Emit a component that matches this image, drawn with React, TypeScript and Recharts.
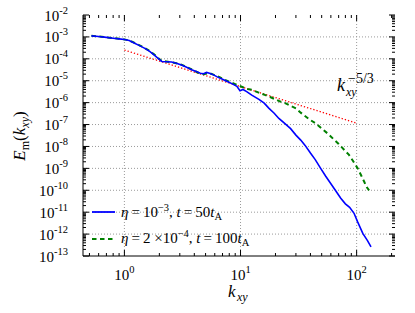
import React from 'react';
import { LineChart, Line, XAxis, YAxis, ReferenceLine, Legend } from 'recharts';

const FONT = "'Liberation Serif', 'DejaVu Serif', serif";

// eta = 1e-3, t = 50 tA (blue, solid)
const K_ETA3 = [
  0.52, 0.6, 0.7, 0.8, 0.9, 1.0, 1.1, 1.2, 1.35, 1.5, 1.65, 1.8, 1.95, 2.1, 2.3, 2.55, 2.8, 3.1, 3.4, 3.8,
  4.2, 4.5, 4.8, 5.1, 5.4, 5.8, 6.3, 7.0, 7.7, 8.5, 9.3, 9.9, 10.5, 11.3, 12.5, 14.4, 16, 17.6, 19.5, 21.4,
  24, 27, 30, 33, 36, 40, 44, 49, 54, 60, 66, 73, 80, 87, 95, 102, 113, 124, 133,
];
const E_ETA3 = [
  1.12e-3, 1.05e-3, 9.5e-4, 8.7e-4, 8.1e-4, 7.6e-4, 6.8e-4, 5.4e-4, 4.0e-4, 3.0e-4, 2.2e-4, 1.5e-4, 1.05e-4,
  7.6e-5, 7.4e-5, 7.2e-5, 6.3e-5, 5.2e-5, 4.2e-5, 3.2e-5, 2.6e-5, 2.2e-5, 2.1e-5, 2.4e-5, 2.2e-5, 1.9e-5,
  1.5e-5, 1.17e-5, 9.3e-6, 7.2e-6, 5.6e-6, 3.5e-6, 4.0e-6, 3.2e-6, 2.2e-6, 1.4e-6, 9.5e-7, 5.5e-7, 3.3e-7,
  1.9e-7, 1.12e-7, 6.5e-8, 3.3e-8, 1.95e-8, 1.12e-8, 5.0e-9, 2.5e-9, 1.0e-9, 4.5e-10, 2.0e-10, 9.5e-11,
  4.3e-11, 2.4e-11, 1.66e-11, 8.9e-12, 3.6e-12, 1.07e-12, 5.0e-13, 2.6e-13,
];

// eta = 2e-4, t = 100 tA (green, dashed)
const K_ETA24 = [
  0.52, 0.6, 0.7, 0.8, 0.9, 1.0, 1.1, 1.2, 1.35, 1.5, 1.65, 1.8, 1.95, 2.1, 2.3, 2.55, 2.8, 3.1, 3.4, 3.8,
  4.2, 4.5, 4.8, 5.4, 6.0, 6.6, 7.3, 8.0, 9.0, 10, 11.5, 12.6, 14, 16.4, 18, 20, 22, 24.5, 27, 30, 33, 35,
  40, 44.5, 50, 56, 63, 70, 78, 86, 94, 102, 110, 116, 122, 128,
];
const E_ETA24 = [
  1.12e-3, 1.05e-3, 9.6e-4, 8.8e-4, 8.2e-4, 7.7e-4, 6.9e-4, 5.6e-4, 4.1e-4, 3.1e-4, 2.3e-4, 1.6e-4, 1.1e-4,
  8.0e-5, 7.5e-5, 7.0e-5, 6.3e-5, 5.4e-5, 4.4e-5, 3.3e-5, 2.5e-5, 2.1e-5, 2.0e-5, 2.2e-5, 1.8e-5, 1.45e-5,
  1.1e-5, 9.0e-6, 7.0e-6, 5.6e-6, 4.2e-6, 3.8e-6, 3.0e-6, 2.2e-6, 1.8e-6, 1.4e-6, 1.12e-6, 9.3e-7, 7.1e-7,
  5.5e-7, 3.5e-7, 2.7e-7, 1.6e-7, 1.12e-7, 6.6e-8, 4.0e-8, 2.2e-8, 1.3e-8, 7.1e-9, 4.1e-9, 2.0e-9, 1.0e-9,
  4.5e-10, 2.5e-10, 1.4e-10, 1.0e-10,
];

// k^-5/3 reference slope (red, dotted)
const K_SLOPE = [1, 10, 100];
const E_SLOPE = [2.5e-4, 5.4e-6, 1.16e-7];

// axes
const X_DOMAIN = [0.44, 214];
const Y_DOMAIN = [1e-13, 1e-2];
const X_DECADES = [-1, 0, 1, 2];
const Y_DECADES = [-13, -12, -11, -10, -9, -8, -7, -6, -5, -4, -3, -2];
const MINOR = [1, 2, 3, 4, 5, 6, 7, 8, 9];
const LEGEND_ORDER = ['eta3', 'eta24'];

// layout: the plot box follows from these
const W = 415;
const H = 313;
const MARGIN = { top: 15, right: 20, bottom: 0, left: 0 };
const Y_AXIS_W = 83;
const X_AXIS_H = 57;
const PLOT_LEFT = MARGIN.left + Y_AXIS_W;
const PLOT_RIGHT = W - MARGIN.right;
const PLOT_TOP = MARGIN.top;
const PLOT_BOTTOM = H - MARGIN.bottom - X_AXIS_H;

const toRows = (ks: number[], es: number[]) => ks.map((k, i) => ({ k, e: es[i] }));
const eta3 = toRows(K_ETA3, E_ETA3);
const eta24 = toRows(K_ETA24, E_ETA24);
const slope = toRows(K_SLOPE, E_SLOPE);

const logTicks = (decades: number[], [lo, hi]: number[]) =>
  decades.flatMap((d) => MINOR.map((m) => m * Math.pow(10, d))).filter((v) => v >= lo * 0.999 && v <= hi * 1.001);
const X_TICKS = logTicks(X_DECADES, X_DOMAIN);
const Y_TICKS = logTicks(Y_DECADES, Y_DOMAIN);

const isDecade = (v: number) => Math.abs(Math.log10(v) - Math.round(Math.log10(v))) < 1e-6;
const expOf = (v: number) => Math.round(Math.log10(v));
const MAJOR_LEN = 6;
const MINOR_LEN = 3;
const GRID = { stroke: '#9a9a9a', strokeDasharray: '1 2', strokeWidth: 1 };
const TICK_LINE = { stroke: '#000', strokeWidth: 1, fill: 'none' };

// ticks point inward on all four sides, like the original figure
function BottomTick({ x, payload }: any) {
  const major = isDecade(payload.value);
  const len = major ? MAJOR_LEN : MINOR_LEN;
  return (
    <g>
      <path d={`M${x},${PLOT_BOTTOM}v${-len}M${x},${PLOT_TOP}v${len}`} {...TICK_LINE} />
      {major && (
        <text x={x} y={PLOT_BOTTOM + 24} textAnchor="middle" fontFamily={FONT} fontSize={15} fill="#000" stroke="none">
          10<tspan dy={-7} fontSize={10.5}>{expOf(payload.value)}</tspan>
        </text>
      )}
    </g>
  );
}

function LeftTick({ y, payload }: any) {
  const major = isDecade(payload.value);
  const len = major ? MAJOR_LEN : MINOR_LEN;
  return (
    <g>
      <path d={`M${PLOT_LEFT},${y}h${len}M${PLOT_RIGHT},${y}h${-len}`} {...TICK_LINE} />
      {major && (
        <text x={PLOT_LEFT - 15} y={y + 5.5} textAnchor="end" fontFamily={FONT} fontSize={15} fill="#000" stroke="none">
          10<tspan dy={-7} fontSize={10.5}>{expOf(payload.value)}</tspan>
        </text>
      )}
    </g>
  );
}

const sub = { fontSize: 10.5, verticalAlign: '-0.3em', lineHeight: 0, fontStyle: 'normal' } as const;
const sup = { fontSize: 10.5, verticalAlign: '0.55em', lineHeight: 0 } as const;
const EQ = '\u2009=\u2009';

function legendLabel(name: string) {
  if (name === 'eta3') {
    return (
      <span>
        <i>η</i>{EQ}10<span style={sup}>−3</span>, <i>t</i>{EQ}50<i>t</i><span style={sub}>A</span>
      </span>
    );
  }
  return (
    <span>
      <i>η</i>{EQ}2 ×10<span style={sup}>−4</span>, <i>t</i>{EQ}100<i>t</i><span style={sub}>A</span>
    </span>
  );
}

function LegendBox({ payload }: any) {
  const items = LEGEND_ORDER.map((n) => (payload || []).find((p: any) => p.value === n)).filter(Boolean);
  return (
    <div style={{ fontFamily: FONT, fontSize: 15, color: '#000' }}>
      {items.map((p: any) => (
        <div key={p.value} style={{ display: 'flex', alignItems: 'center', height: 26.5, whiteSpace: 'nowrap' }}>
          <svg width={23} height={4} style={{ flex: 'none' }}>
            <line x1={0} x2={23} y1={2} y2={2} stroke={p.color} strokeWidth={1.8}
                  strokeDasharray={p.value === 'eta24' ? '4.5 3.5' : undefined} />
          </svg>
          <span style={{ marginLeft: 6 }}>{legendLabel(p.value)}</span>
        </div>
      ))}
    </div>
  );
}

export default function App() {
  return (
    <div style={{ position: 'absolute', left: 0, top: 0, width: W, height: H, background: '#fff' }}>
      <LineChart width={W} height={H} margin={MARGIN}>
        <XAxis dataKey="k" type="number" scale="log" domain={X_DOMAIN} allowDataOverflow ticks={X_TICKS}
               interval={0} tick={<BottomTick />} tickLine={false} tickSize={0} tickMargin={0} height={X_AXIS_H}
               axisLine={{ stroke: '#000' }} />
        <XAxis xAxisId="top" orientation="top" dataKey="k" type="number" scale="log" domain={X_DOMAIN}
               allowDataOverflow tick={false} tickLine={false} height={0} axisLine={{ stroke: '#000' }} />
        <YAxis type="number" scale="log" domain={Y_DOMAIN} allowDataOverflow ticks={Y_TICKS} interval={0}
               tick={<LeftTick />} tickLine={false} tickSize={0} tickMargin={0} width={Y_AXIS_W}
               axisLine={{ stroke: '#000' }} />
        <YAxis yAxisId="right" orientation="right" type="number" scale="log" domain={Y_DOMAIN} allowDataOverflow
               tick={false} tickLine={false} width={0} axisLine={{ stroke: '#000' }} />
        {X_DECADES.map((d) => Math.pow(10, d)).filter((v) => v > X_DOMAIN[0]).map((v) => (
          <ReferenceLine key={'x' + v} x={v} {...GRID} />
        ))}
        {Y_DECADES.slice(1, -1).map((d) => (
          <ReferenceLine key={'y' + d} y={Math.pow(10, d)} {...GRID} />
        ))}
        <Line data={slope} dataKey="e" name="slope" legendType="none" stroke="#ff0000" strokeWidth={1.3}
              strokeDasharray="1.3 2" dot={false} isAnimationActive={false} />
        <Line data={eta24} dataKey="e" name="eta24" stroke="#008000" strokeWidth={2} strokeDasharray="4.5 3.5"
              dot={false} isAnimationActive={false} />
        <Line data={eta3} dataKey="e" name="eta3" stroke="#0000ff" strokeWidth={1.6} dot={false}
              isAnimationActive={false} />
        <Legend content={<LegendBox />} layout="vertical" align="center" verticalAlign="middle"
                wrapperStyle={{ left: 92, top: 199, width: 240 }} />
      </LineChart>
      <svg width={W} height={H} style={{ position: 'absolute', left: 0, top: 0, pointerEvents: 'none' }}
           fontFamily={FONT} fill="#000">
        <text transform="translate(25,136) rotate(-90)" textAnchor="middle" fontSize={17}>
          <tspan fontStyle="italic">E</tspan>
          <tspan dy={4} fontSize={12}>m</tspan>
          <tspan dy={-4}>(</tspan>
          <tspan fontStyle="italic">k</tspan>
          <tspan dy={4} fontSize={12} fontStyle="italic">xy</tspan>
          <tspan dy={-4}>)</tspan>
        </text>
        <text fontSize={17}>
          <tspan x={228} y={297} fontStyle="italic">k</tspan>
          <tspan x={237} y={301} fontSize={12} fontStyle="italic">xy</tspan>
        </text>
        <text fontSize={18}>
          <tspan x={337} y={91} fontStyle="italic">k</tspan>
          <tspan x={346} y={96} fontSize={12} fontStyle="italic">xy</tspan>
          <tspan x={348} y={83} fontSize={14}>−5/3</tspan>
        </text>
      </svg>
    </div>
  );
}
